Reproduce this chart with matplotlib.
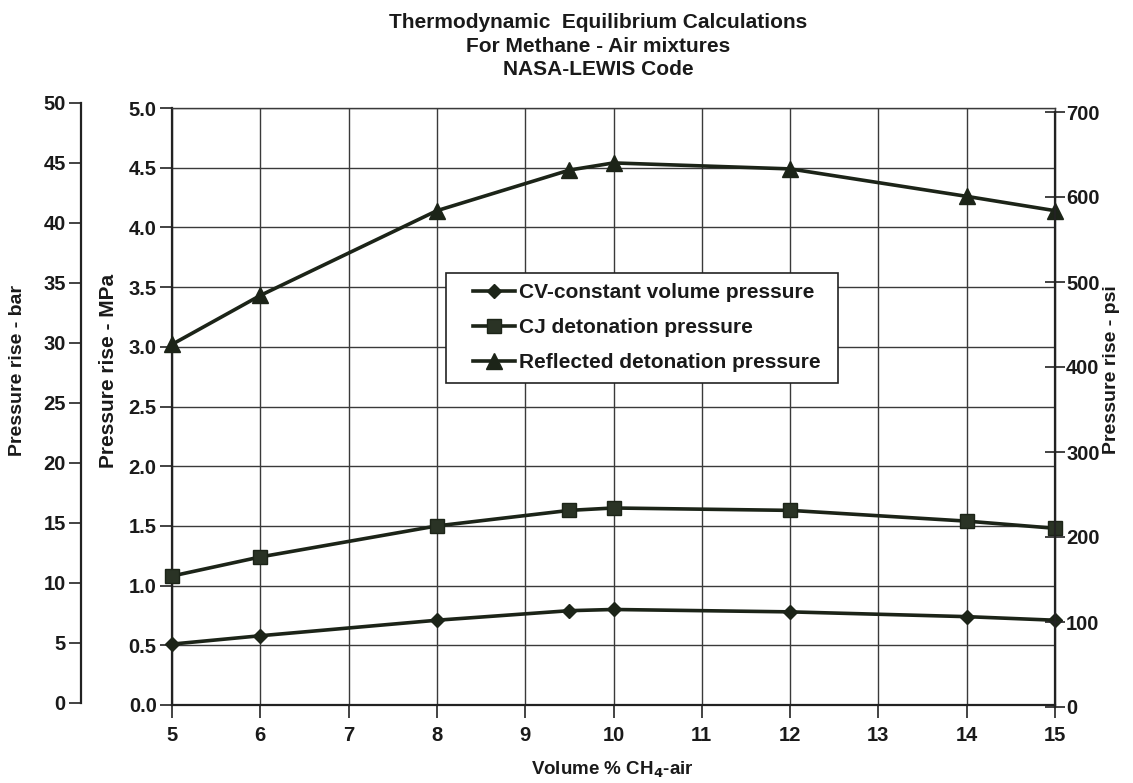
import matplotlib
matplotlib.use("Agg")
import matplotlib.pyplot as plt
from matplotlib.lines import Line2D
from matplotlib.patches import Rectangle

plt.rcParams['font.family'] = ['Liberation Sans', 'DejaVu Sans']
plt.rcParams['font.weight'] = 'bold'

# Equilibrium results for methane-air mixtures (pressure rise in MPa)
vol_pct = [5, 6, 8, 9.5, 10, 12, 14, 15]
cv_pressure = [0.51, 0.58, 0.71, 0.79, 0.80, 0.78, 0.74, 0.71]
cj_pressure = [1.08, 1.24, 1.50, 1.63, 1.65, 1.63, 1.54, 1.48]
reflected_pressure = [3.02, 3.43, 4.14, 4.48, 4.54, 4.49, 4.26, 4.14]

series_labels = ["CV-constant volume pressure",
                 "CJ detonation pressure",
                 "Reflected detonation pressure"]
x_ticks = list(range(5, 16))
mpa_ticks = [i * 0.5 for i in range(11)]
bar_ticks = list(range(0, 55, 5))
psi_ticks = list(range(0, 800, 100))

W, H = 1133, 783
INK = '#1c2418'
GRID = '#3a3a3a'
TXT = '#1a1a1a'
TICK_FS = 14.5

fig = plt.figure(figsize=(W / 100, H / 100), dpi=100)
fig.patch.set_facecolor('white')


def frac_box(x0, y_top, x1, y_bot):
    return [x0 / W, 1 - y_bot / H, (x1 - x0) / W, (y_bot - y_top) / H]


# main plot area (MPa)
ax = fig.add_axes(frac_box(172, 108, 1055, 705))
ax.set_xlim(5, 15)
ax.set_ylim(0, 5)
ax.set_xticks(x_ticks)
ax.set_yticks(mpa_ticks)
ax.set_yticklabels([f"{v:.1f}" for v in mpa_ticks])
ax.grid(True, color=GRID, linewidth=1.0)
ax.set_axisbelow(True)
for side in ['top', 'right']:
    ax.spines[side].set_color(GRID)
    ax.spines[side].set_linewidth(1.0)
for side in ['left', 'bottom']:
    ax.spines[side].set_color('#222222')
    ax.spines[side].set_linewidth(1.6)
ax.tick_params(axis='both', direction='out', length=9, width=1.2,
               color='#222222', labelsize=TICK_FS, labelcolor=TXT)
ax.tick_params(axis='y', pad=2)
ax.tick_params(axis='x', pad=6)
for lab in ax.get_xticklabels() + ax.get_yticklabels():
    lab.set_fontweight('bold')

styles = [
    dict(marker='D', markersize=7.5, markerfacecolor=INK),
    dict(marker='s', markersize=9.5, markerfacecolor='#2a3325'),
    dict(marker='^', markersize=11, markerfacecolor=INK),
]
for yvals, st in zip([cv_pressure, cj_pressure, reflected_pressure], styles):
    ax.plot(vol_pct, yvals, color=INK, linewidth=2.6, markeredgecolor=INK,
            clip_on=False, zorder=5, **st)

# legend with a plain rectangular frame
handles = [Line2D([], [], color=INK, linewidth=2.6, markeredgecolor=INK, **st)
           for st in styles]
leg = fig.legend(handles, series_labels, loc='upper left',
                 bbox_to_anchor=(473 / W, 1 - 283 / H),
                 prop={'family': ['Liberation Sans'], 'weight': 'bold', 'size': 15},
                 frameon=False, handlelength=2.0, handletextpad=0.2,
                 labelspacing=0.78, borderpad=0.0, borderaxespad=0)
for t in leg.get_texts():
    t.set_color(TXT)
fig.patches.append(Rectangle((446 / W, 1 - 383 / H), (838 - 446) / W, (383 - 273) / H,
                             transform=fig.transFigure, facecolor='white',
                             edgecolor='#222222', linewidth=1.2, zorder=2))
leg.set_zorder(3)

# bar scale on the far left
ax_bar = fig.add_axes(frac_box(81, 103, 82, 703))
ax_bar.set_ylim(0, 50)
ax_bar.set_yticks(bar_ticks)
ax_bar.set_xticks([])
for side in ['top', 'right', 'bottom']:
    ax_bar.spines[side].set_visible(False)
ax_bar.spines['left'].set_color('#222222')
ax_bar.spines['left'].set_linewidth(1.6)
ax_bar.patch.set_alpha(0)
ax_bar.tick_params(axis='y', direction='out', length=9, width=1.2,
                   color='#222222', labelsize=TICK_FS, labelcolor=TXT, pad=2)
for lab in ax_bar.get_yticklabels():
    lab.set_fontweight('bold')

# psi scale on the right
ax_psi = fig.add_axes(frac_box(1054, 112, 1055, 707))
ax_psi.set_ylim(0, 700)
ax_psi.set_yticks(psi_ticks)
ax_psi.set_xticks([])
for side in ['top', 'left', 'bottom']:
    ax_psi.spines[side].set_visible(False)
ax_psi.spines['right'].set_color('#222222')
ax_psi.spines['right'].set_linewidth(1.6)
ax_psi.patch.set_alpha(0)
ax_psi.yaxis.tick_right()
ax_psi.tick_params(axis='y', direction='inout', length=14, width=1.2,
                   color='#222222', labelsize=TICK_FS, labelcolor=TXT, pad=1)
for lab in ax_psi.get_yticklabels():
    lab.set_fontweight('bold')

# axis titles
fig.text(18 / W, 1 - 370 / H, "Pressure rise - bar", rotation=90,
         ha='center', va='center', fontsize=14, fontweight='bold', color=TXT)
fig.text(109 / W, 1 - 371 / H, "Pressure rise - MPa", rotation=90,
         ha='center', va='center', fontsize=15, fontweight='bold', color=TXT)
fig.text(1112 / W, 1 - 370 / H, "Pressure rise - psi", rotation=90,
         ha='center', va='center', fontsize=14, fontweight='bold', color=TXT)
fig.text(612 / W, 1 - 770 / H, r"Volume % CH$_\mathbf{4}$-air",
         ha='center', va='center', fontsize=13.5, fontweight='bold', color=TXT)

# chart title
fig.text(598 / W, 1 - 46 / H,
         "Thermodynamic  Equilibrium Calculations\nFor Methane - Air mixtures\nNASA-LEWIS Code",
         ha='center', va='center', fontsize=15, fontweight='bold', color=TXT,
         linespacing=1.3)

fig.savefig("out.png", dpi=100, facecolor='white')
